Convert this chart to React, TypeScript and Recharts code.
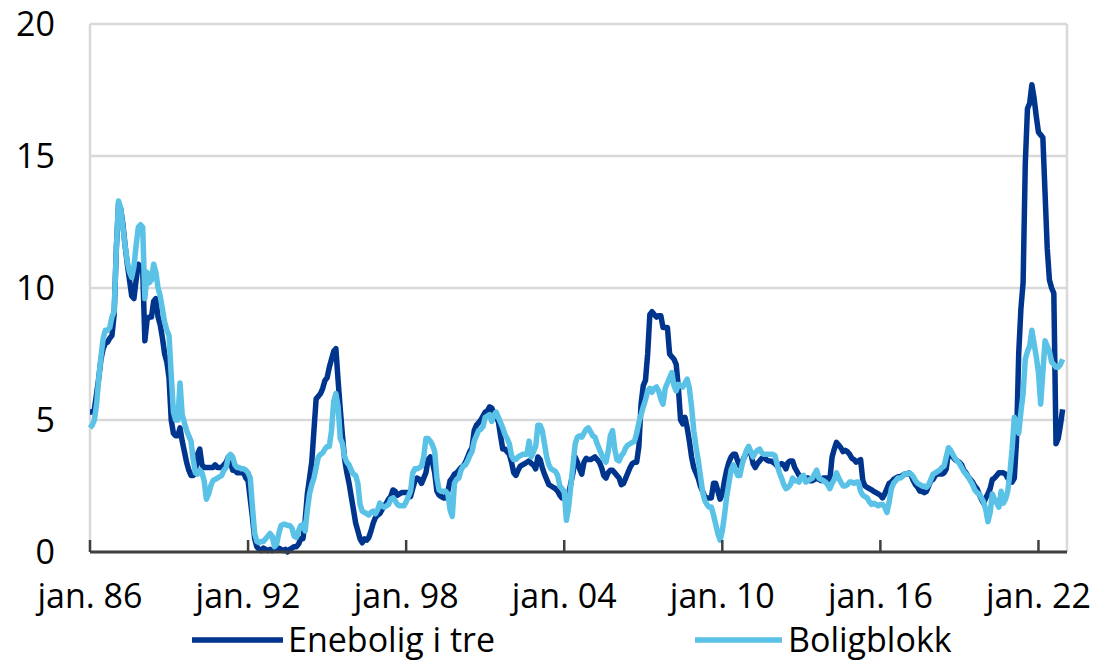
import React from 'react';
import { LineChart, Line, XAxis, YAxis, CartesianGrid, Legend } from 'recharts';

// Monthly data, jan. 1986 – des. 2022 (12 values per row = one year)
const START_YEAR = 1986;

const enebolig: number[] = [
  5.3, 5.3, 5.4, 6.0, 6.6, 7.3, 7.7, 7.9, 7.95, 8.1, 8.2, 9.0,
  11.5, 13.2, 13.0, 12.4, 11.6, 10.9, 10.3, 9.7, 9.6, 10.3, 10.9, 10.8,
  10.7, 8.0, 8.8, 8.9, 8.9, 9.5, 9.6, 8.9, 8.6, 8.1, 7.5, 7.2,
  6.6, 5.0, 4.5, 4.4, 4.4, 4.7, 4.2, 3.8, 3.4, 3.1, 2.9, 2.9,
  3.0, 3.7, 3.9, 3.3, 3.2, 3.2, 3.2, 3.2, 3.2, 3.3, 3.2, 3.2,
  3.2, 3.3, 3.4, 3.6, 3.4, 3.1, 3.1, 3.0, 3.0, 3.0, 3.0, 2.8,
  2.7, 2.0, 1.3, 0.5, 0.2, 0.1, 0.05, 0.15, 0.1, 0.05, 0.1, 0.05,
  0.1, 0.15, 0.15, 0.1, 0.05, 0.1, 0.0, 0.1, 0.15, 0.2, 0.2, 0.3,
  0.5, 0.5, 1.2, 2.2, 2.8, 3.4, 4.6, 5.8, 5.9, 6.0, 6.2, 6.5,
  6.6, 7.0, 7.3, 7.6, 7.7, 6.5, 5.4, 4.4, 3.5, 3.0, 2.6, 2.1,
  1.6, 1.1, 0.8, 0.5, 0.35, 0.5, 0.45, 0.55, 0.8, 1.1, 1.3, 1.4,
  1.45, 1.6, 1.75, 1.85, 2.0, 2.1, 2.35, 2.3, 2.15, 2.2, 2.25, 2.25,
  2.25, 2.25, 2.1, 2.4, 2.7, 2.8, 2.75, 2.6, 2.8, 3.0, 3.5, 3.6,
  3.4, 3.0, 2.3, 2.15, 2.1, 2.05, 2.05, 2.3, 2.7, 2.8, 2.95, 3.0,
  3.1, 3.2, 3.25, 3.4, 3.6, 3.8, 3.95, 4.6, 4.8, 4.9, 5.0, 5.15,
  5.3, 5.35, 5.5, 5.45, 5.25, 5.1, 4.95, 4.4, 3.9, 3.9, 3.8, 3.7,
  3.4, 3.0, 2.9, 3.1, 3.25, 3.3, 3.35, 3.4, 3.45, 3.35, 3.3, 3.15,
  3.6, 3.5, 3.2, 2.95, 2.75, 2.55, 2.5, 2.45, 2.4, 2.3, 2.15, 2.05,
  2.05, 2.1, 2.2, 2.6, 3.0, 3.6, 3.4, 3.15, 2.95, 3.4, 3.55, 3.5,
  3.5, 3.55, 3.6, 3.5, 3.4, 3.2, 2.9, 2.8, 3.0, 3.1, 3.1, 3.0,
  2.9, 2.8, 2.55, 2.6, 2.8, 3.0, 3.2, 3.35, 3.4, 3.4, 4.0, 5.6,
  6.3, 6.5, 7.5, 9.0, 9.1, 9.0, 8.9, 8.95, 8.95, 8.5, 8.5, 8.5,
  7.5, 7.4, 7.3, 7.1, 6.2, 5.0, 4.85, 5.1, 4.7, 4.2, 3.6, 3.2,
  3.0, 2.8, 2.5, 2.3, 2.1, 2.05, 2.05, 2.05, 2.6, 2.6, 2.3, 2.0,
  2.2, 2.7, 3.1, 3.4, 3.6, 3.7, 3.7, 3.45, 3.25, 3.4, 3.6, 3.75,
  3.9, 3.75, 3.35, 3.2, 3.35, 3.45, 3.55, 3.6, 3.5, 3.45, 3.45, 3.4,
  3.35, 3.25, 3.3, 3.35, 3.3, 3.15, 3.4, 3.45, 3.45, 3.2, 3.05, 2.9,
  2.85, 2.8, 2.8, 2.8, 2.7, 2.7, 2.75, 2.8, 2.75, 2.7, 2.8, 2.8,
  2.8, 2.75, 3.6, 3.9, 4.15, 4.05, 3.95, 3.8, 3.85, 3.8, 3.7, 3.55,
  3.5, 3.4, 3.45, 3.5, 2.7, 2.5, 2.45, 2.4, 2.35, 2.3, 2.25, 2.2,
  2.15, 2.05, 2.2, 2.4, 2.6, 2.65, 2.75, 2.8, 2.85, 2.85, 2.9, 2.95,
  2.95, 3.0, 2.9, 2.7, 2.55, 2.45, 2.3, 2.3, 2.25, 2.3, 2.5, 2.7,
  2.75, 2.9, 2.95, 2.95, 2.95, 3.0, 3.15, 3.8, 3.7, 3.6, 3.5, 3.45,
  3.4, 3.3, 3.1, 3.0, 2.85, 2.75, 2.65, 2.5, 2.4, 2.2, 2.0, 1.85,
  2.05, 2.2, 2.4, 2.75, 2.8, 2.9, 3.0, 3.0, 3.0, 2.95, 2.8, 2.7,
  2.65, 2.8, 4.2, 7.5, 9.2, 10.2, 14.7, 16.8, 17.0, 17.7, 17.2, 16.5,
  15.9, 15.8, 15.7, 13.6, 11.5, 10.3, 10.0, 9.8, 4.1, 4.3, 4.8, 5.4,
];

const boligblokk: number[] = [
  4.7, 4.8, 5.0, 5.6, 6.6, 7.4, 8.1, 8.4, 8.4, 8.5, 8.9, 9.1,
  11.5, 13.3, 13.0, 12.3, 11.6, 11.0, 10.6, 10.4, 10.8, 11.6, 12.3, 12.4,
  12.3, 9.6, 10.6, 10.2, 10.3, 10.9, 10.6, 10.0, 9.7, 9.2, 8.7, 8.4,
  8.2, 6.7, 5.3, 5.0, 5.0, 6.4, 5.2, 4.9, 4.6, 4.4, 4.2, 3.5,
  3.0, 2.95, 3.1, 3.0, 2.7, 2.0, 2.2, 2.5, 2.7, 2.75, 2.8, 2.85,
  2.9, 3.1, 3.2, 3.6, 3.7, 3.6, 3.3, 3.2, 3.2, 3.15, 3.15, 3.1,
  3.0, 2.8, 1.7, 0.7, 0.4, 0.35, 0.4, 0.4, 0.5, 0.6, 0.7, 0.6,
  0.2, 0.3, 0.7, 1.0, 1.05, 1.05, 1.0, 1.0, 0.9, 0.6, 0.55, 0.8,
  1.0, 1.05, 0.8, 1.6, 2.2, 2.55, 2.8, 3.2, 3.6, 3.7, 3.75, 3.9,
  4.0, 4.0, 4.6, 5.7, 6.0, 5.5, 4.3, 4.1, 3.6, 3.4, 3.3, 3.1,
  2.95, 2.9, 2.6, 1.8, 1.55, 1.5, 1.45, 1.4, 1.5, 1.55, 1.45, 1.6,
  1.85, 1.75, 1.7, 1.75, 1.8, 2.0, 2.05, 1.95, 1.8, 1.75, 1.75, 1.75,
  1.9, 2.1, 2.3, 3.0, 3.15, 3.15, 3.2, 3.25, 3.6, 4.3, 4.3, 4.2,
  4.05, 3.8, 2.8, 2.35, 2.3, 2.3, 2.3, 2.2, 1.6, 1.35, 2.6, 2.75,
  2.8, 3.1, 3.25, 3.3, 3.45, 3.65, 3.8, 4.2, 4.4, 4.6, 4.65, 4.75,
  5.1, 5.15, 5.2, 4.95, 5.2, 5.3, 5.1, 4.9, 4.7, 4.45, 4.3, 4.1,
  3.65, 3.5, 3.5, 3.6, 3.65, 3.7, 3.7, 3.7, 4.2, 3.6, 3.8, 4.0,
  4.8, 4.8, 4.6, 4.1, 3.6, 3.3, 3.15, 3.1, 3.05, 2.9, 2.5, 2.4,
  2.3, 1.2, 1.7, 2.5, 3.3, 4.1, 4.35, 4.4, 4.35, 4.5, 4.65, 4.7,
  4.55, 4.4, 4.35, 4.1, 3.9, 3.7, 3.5, 3.4, 3.8, 4.4, 4.6, 3.9,
  3.5, 3.45, 3.65, 3.75, 3.95, 4.05, 4.1, 4.15, 4.2, 4.5, 4.9, 5.2,
  5.5, 5.75, 6.1, 6.2, 6.05, 6.2, 6.25, 6.1, 5.8, 5.6, 6.2, 6.4,
  6.6, 6.8, 6.3, 6.1, 6.35, 6.3, 6.25, 6.4, 6.55, 6.2, 5.5, 4.6,
  4.0, 3.5, 2.9, 2.3, 1.95, 1.8, 1.7, 1.7, 1.4, 1.05, 0.7, 0.45,
  0.8, 1.4, 2.1, 2.6, 3.1, 3.3, 3.1, 2.9, 2.9, 3.3, 3.6, 3.85,
  4.0, 3.8, 3.6, 3.75, 3.85, 3.9, 3.75, 3.7, 3.7, 3.7, 3.7, 3.7,
  3.65, 3.3, 3.0, 2.8, 2.55, 2.4, 2.45, 2.55, 2.8, 2.7, 2.7, 2.65,
  2.85, 2.9, 2.65, 2.7, 2.75, 2.8, 2.95, 3.1, 2.8, 2.75, 2.7, 2.65,
  2.55, 2.4, 2.6, 2.75, 3.0, 2.8, 2.65, 2.5, 2.5, 2.55, 2.65, 2.65,
  2.6, 2.65, 2.65, 2.3, 2.15, 2.1, 2.05, 1.9, 1.8, 1.85, 1.8, 1.75,
  1.8, 1.8, 1.7, 1.5, 1.9, 2.4, 2.6, 2.7, 2.8, 2.8, 2.85, 2.95,
  2.95, 3.0, 2.95, 2.85, 2.7, 2.6, 2.55, 2.5, 2.5, 2.45, 2.55, 2.75,
  2.95, 3.0, 3.05, 3.1, 3.2, 3.25, 3.6, 3.95, 3.85, 3.7, 3.55, 3.45,
  3.35, 3.2, 3.05, 2.95, 2.85, 2.7, 2.55, 2.35, 2.25, 2.2, 2.05, 1.9,
  1.6, 1.15, 1.5, 2.2, 2.0, 1.85, 1.7, 2.3, 1.85, 2.0, 2.3, 3.0,
  3.9, 5.1, 4.9, 4.5, 5.3, 6.0, 7.3, 7.6, 7.8, 8.4, 7.9, 7.4,
  6.8, 5.6, 6.8, 8.0, 7.8, 7.6, 7.2, 7.1, 7.0, 7.0, 7.1, 7.3,
];

const seriesNames = ['Enebolig i tre', 'Boligblokk'];
const xTicks = [0, 72, 144, 216, 288, 360, 432];
const xTickLabels = ['jan. 86', 'jan. 92', 'jan. 98', 'jan. 04', 'jan. 10', 'jan. 16', 'jan. 22'];
const yTicks = [0, 5, 10, 15, 20];

const DARK = '#00358E';
const LIGHT = '#5BC2E7';
const GRID = '#D9D9D9';
const AXIS = '#404040';
const FONT = "'Open Sans', sans-serif";

const W = 1094;
const H = 661;
const MARGIN = { top: 24, right: 27, bottom: 49, left: 0 };
const Y_AXIS_W = 90;
const X_AXIS_H = 60;

const data = enebolig.map((v, i) => ({
  m: i,
  date: `${START_YEAR + Math.floor(i / 12)}-${String((i % 12) + 1).padStart(2, '0')}`,
  enebolig: v,
  boligblokk: boligblokk[i],
}));

const XTick = (props: any) => {
  const { x, y, payload } = props;
  const idx = xTicks.indexOf(payload.value);
  return (
    <g>
      <line x1={x} x2={x} y1={y} y2={y - 12} stroke={AXIS} strokeWidth={2.5} />
      <text x={x} y={y + 56} textAnchor="middle" fontFamily={FONT} fontSize={34} fill="#000">
        {xTickLabels[idx]}
      </text>
    </g>
  );
};

const LegendContent = () => (
  <svg
    width={W}
    height={H}
    style={{ position: 'absolute', left: 0, top: 0, overflow: 'visible', pointerEvents: 'none' }}
  >
    <line x1={192} x2={283} y1={640} y2={640} stroke={DARK} strokeWidth={5.5} />
    <text x={288} y={652} fontFamily={FONT} fontSize={34} fill="#000">{seriesNames[0]}</text>
    <line x1={695} x2={782} y1={640} y2={640} stroke={LIGHT} strokeWidth={5.5} />
    <text x={788} y={652} fontFamily={FONT} fontSize={34} fill="#000">{seriesNames[1]}</text>
  </svg>
);

export default function App() {
  const plotLeft = MARGIN.left + Y_AXIS_W;
  const plotRight = W - MARGIN.right;
  return (
    <div style={{ position: 'absolute', left: 0, top: 0, width: W, height: H, background: '#fff', overflow: 'hidden' }}>
      <LineChart width={W} height={H} data={data} margin={MARGIN}>
        <CartesianGrid
          stroke={GRID}
          strokeWidth={2.5}
          verticalPoints={[plotLeft, plotRight]}
        />
        <XAxis
          dataKey="m"
          type="number"
          domain={[0, 445]}
          ticks={xTicks}
          interval={0}
          height={X_AXIS_H}
          tickSize={0}
          tickMargin={0}
          tickLine={false}
          axisLine={{ stroke: AXIS, strokeWidth: 3 }}
          tick={<XTick />}
        />
        <YAxis
          type="number"
          domain={[0, 20]}
          ticks={yTicks}
          interval={0}
          width={Y_AXIS_W}
          axisLine={false}
          tickLine={false}
          tickSize={0}
          tickMargin={35}
          tick={{ fontSize: 34, fill: '#000', fontFamily: FONT }}
        />
        <Legend
          verticalAlign="bottom"
          wrapperStyle={{ position: 'absolute', left: 0, top: 0, width: 0, height: 0, overflow: 'visible' }}
          content={() => <LegendContent />}
        />
        <Line
          type="linear"
          dataKey="enebolig"
          name={seriesNames[0]}
          stroke={DARK}
          strokeWidth={5.5}
          dot={false}
          strokeLinejoin="round"
          isAnimationActive={false}
        />
        <Line
          type="linear"
          dataKey="boligblokk"
          name={seriesNames[1]}
          stroke={LIGHT}
          strokeWidth={5.5}
          dot={false}
          strokeLinejoin="round"
          isAnimationActive={false}
        />
      </LineChart>
    </div>
  );
}
